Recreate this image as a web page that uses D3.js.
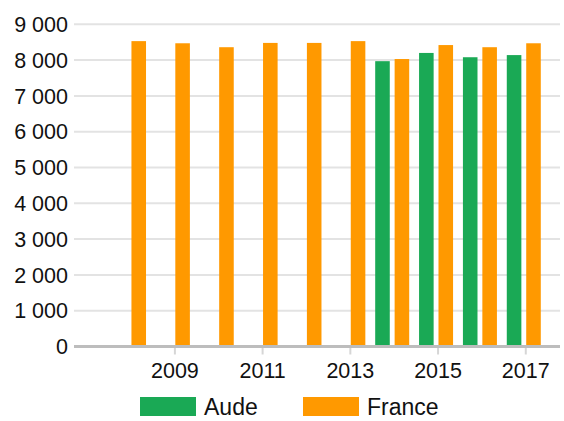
<!DOCTYPE html>
<html>
<head>
<meta charset="utf-8">
<script src="https://cdn.jsdelivr.net/npm/d3@7"></script>
<style>
  body { margin: 0; background: #fff; }
  svg { display: block; font-family: "Liberation Sans", Arial, sans-serif; }
</style>
</head>
<body>
<svg id="chart" width="564" height="421"></svg>
<script>
// data
const years = [2008, 2009, 2010, 2011, 2012, 2013, 2014, 2015, 2016, 2017];
const aude = [null, null, null, null, null, null, 7970, 8200, 8080, 8140];
const france = [8530, 8470, 8360, 8480, 8480, 8530, 8030, 8420, 8360, 8470];
const seriesNames = ["Aude", "France"];
const colors = ["#1aa955", "#ff9900"];
const yTicks = [0, 1000, 2000, 3000, 4000, 5000, 6000, 7000, 8000, 9000];
const xTicks = [2009, 2011, 2013, 2015, 2017];

const svg = d3.select("#chart");

const x = d3.scaleLinear().domain([2006.7, 2017.78]).range([74, 560]);
const y = d3.scaleLinear().domain([0, 9000]).range([346.5, 24.3]);
const inner = d3.scaleBand().domain(seriesNames).range([-19, 15]).paddingInner(0.25);

const fr = d3.formatLocale({decimal: ",", thousands: " ", grouping: [3], currency: ["", " €"]});
const fmt = fr.format(",d");

// gridlines
svg.append("g")
  .selectAll("line")
  .data(yTicks.filter(d => d > 0))
  .join("line")
    .attr("x1", 74).attr("x2", 560)
    .attr("y1", d => y(d)).attr("y2", d => y(d))
    .attr("stroke", "#e3e3e3")
    .attr("stroke-width", 2);

// y labels
svg.append("g")
  .selectAll("text")
  .data(yTicks)
  .join("text")
    .attr("x", 68)
    .attr("y", d => y(d))
    .attr("dy", "0.36em")
    .attr("text-anchor", "end")
    .attr("font-size", 21.5)
    .attr("fill", "#111")
    .text(d => fmt(d));

// bars
const rows = years.map((yr, i) => ({year: yr, values: [aude[i], france[i]]}));
const groups = svg.append("g")
  .selectAll("g")
  .data(rows)
  .join("g")
    .attr("transform", d => "translate(" + x(d.year) + ",0)");

groups.selectAll("rect")
  .data(d => d.values.map((v, j) => ({name: seriesNames[j], value: v, color: colors[j]})).filter(e => e.value != null))
  .join("rect")
    .attr("x", d => inner(d.name))
    .attr("width", inner.bandwidth())
    .attr("y", d => y(d.value))
    .attr("height", d => y(0) - y(d.value))
    .attr("fill", d => d.color);

// baseline
svg.append("line")
  .attr("x1", 74).attr("x2", 560)
  .attr("y1", y(0)).attr("y2", y(0))
  .attr("stroke", "#bdbdbd")
  .attr("stroke-width", 3);

// x ticks and labels
const xg = svg.append("g")
  .selectAll("g")
  .data(xTicks)
  .join("g")
    .attr("transform", d => "translate(" + x(d) + ",0)");
xg.append("line")
  .attr("y1", y(0) + 1.5).attr("y2", y(0) + 8)
  .attr("stroke", "#d6d6d6")
  .attr("stroke-width", 2);
xg.append("text")
  .attr("y", 378)
  .attr("text-anchor", "middle")
  .attr("font-size", 21.5)
  .attr("fill", "#111")
  .text(d => d);

// legend
const legendX = [140, 303];
const leg = svg.append("g")
  .selectAll("g")
  .data(seriesNames)
  .join("g")
    .attr("transform", (d, i) => "translate(" + legendX[i] + ",397)");
leg.append("rect")
  .attr("width", 56).attr("height", 19)
  .attr("fill", (d, i) => colors[i]);
leg.append("text")
  .attr("x", 64)
  .attr("y", 9.5)
  .attr("dy", "0.36em")
  .attr("font-size", 23)
  .attr("fill", "#111")
  .text(d => d);
</script>
</body>
</html>
